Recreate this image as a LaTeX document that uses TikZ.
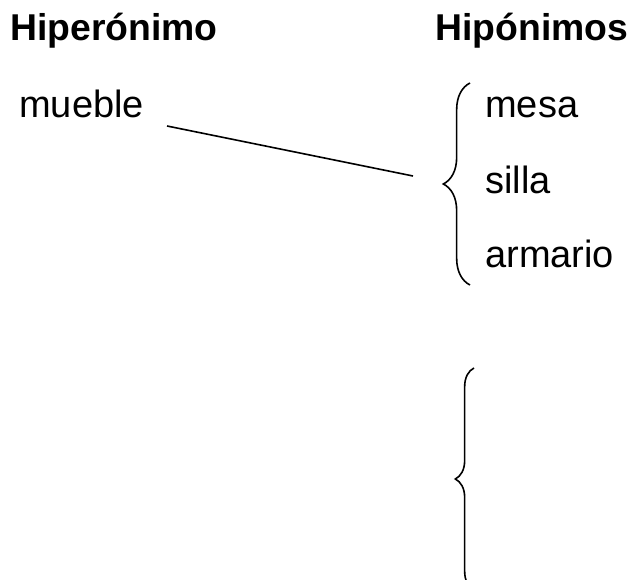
\documentclass[tikz,border=0pt]{standalone}
\usepackage{fontspec}
\setmainfont{Liberation Sans}
\usetikzlibrary{decorations.pathreplacing}
\tikzset{word/.style={anchor=base west,inner sep=0pt,font=\fontsize{28.5}{34}\selectfont}}
\tikzset{head/.style={word,font=\fontsize{28}{34}\selectfont\bfseries}}
\tikzset{brc/.style={decorate,line width=1.2pt,decoration={brace,amplitude=#1}}}

\begin{document}
\begin{tikzpicture}[x=0.75pt,y=-0.75pt]
\clip (0,0) rectangle (628,580);

\node[head] (hiper) at (10,41) {Hiperónimo};
\node[head] (hipo) at (435,41) {Hipónimos};

\node[word] (mueble) at (19,118) {mueble};
\node[word] (mesa) at (485,118) {mesa};
\node[word] (silla) at (485,194) {silla};
\node[word] (armario) at (485,268) {armario};

\coordinate (l0) at (167,126);
\coordinate (l1) at (413,176);
\draw[line width=1.2pt] (l0) -- (l1);

% first brace, around the hyponyms
\coordinate (b1bot) at (470,285);
\coordinate (b1top) at (470,83);
\draw[brc=20pt] (b1bot) -- (b1top);

% second brace, empty
\coordinate (b2bot) at (474,590);
\coordinate (b2top) at (474,368);
\draw[brc=14pt] (b2bot) -- (b2top);
\end{tikzpicture}
\end{document}
